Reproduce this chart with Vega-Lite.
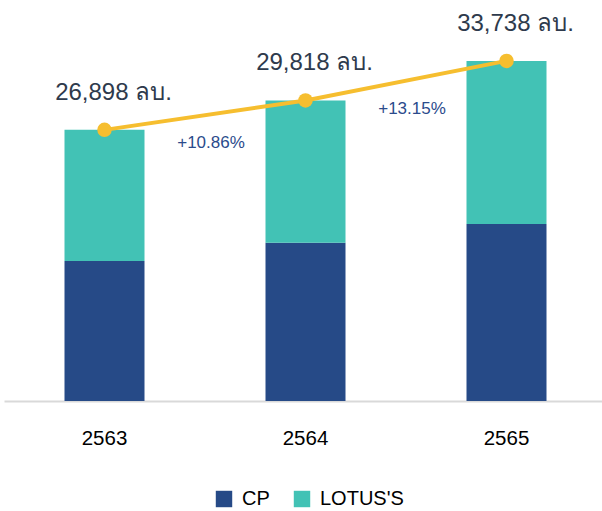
{
  "$schema": "https://vega.github.io/schema/vega-lite/v6.json",
  "width": 603,
  "height": 401,
  "padding": {"left": 4, "top": 0, "right": 0, "bottom": 0},
  "background": "white",
  "config": {
    "view": {"stroke": null},
    "font": "Helvetica, Liberation Sans, Arial, sans-serif"
  },
  "datasets": {
    "bars": [
      {"year": "2563", "company": "CP", "value": 13900},
      {"year": "2563", "company": "LOTUS'S", "value": 12998},
      {"year": "2564", "company": "CP", "value": 15700},
      {"year": "2564", "company": "LOTUS'S", "value": 14118},
      {"year": "2565", "company": "CP", "value": 17560},
      {"year": "2565", "company": "LOTUS'S", "value": 16178}
    ],
    "totals": [
      {"year": "2563", "total": 26898, "label": "26,898 ลบ.", "growth": "+10.86%"},
      {"year": "2564", "total": 29818, "label": "29,818 ลบ.", "growth": "+13.15%"},
      {"year": "2565", "total": 33738, "label": "33,738 ลบ.", "growth": ""}
    ]
  },
  "encoding": {
    "x": {
      "field": "year",
      "type": "nominal",
      "scale": {"paddingInner": 0, "paddingOuter": 0},
      "axis": {
        "title": null,
        "labelAngle": 0,
        "ticks": false,
        "domainColor": "#d9d9d9",
        "domainWidth": 2,
        "labelFontSize": 20.5,
        "labelColor": "#000000",
        "labelPadding": 27,
        "grid": false
      }
    }
  },
  "layer": [
    {
      "data": {"name": "bars"},
      "mark": {"type": "bar", "size": 80},
      "encoding": {
        "y": {
          "field": "value",
          "type": "quantitative",
          "aggregate": "sum",
          "stack": "zero",
          "scale": {"domain": [0, 39780], "nice": false},
          "axis": null
        },
        "color": {
          "field": "company",
          "type": "nominal",
          "scale": {"domain": ["CP", "LOTUS'S"], "range": ["#264a87", "#42c2b5"]},
          "legend": {
            "title": null,
            "orient": "none",
            "legendX": 210,
            "legendY": 489,
            "direction": "horizontal",
            "symbolType": "square",
            "symbolSize": 270,
            "symbolStrokeWidth": 0,
            "labelFontSize": 20,
            "labelColor": "#000000",
            "labelOffset": 8,
            "columnPadding": 22
          }
        },
        "order": {"field": "company", "sort": "ascending"}
      }
    },
    {
      "data": {"name": "totals"},
      "mark": {"type": "line", "color": "#f6be2f", "strokeWidth": 4},
      "encoding": {
        "y": {"field": "total", "type": "quantitative"}
      }
    },
    {
      "data": {"name": "totals"},
      "mark": {"type": "point", "filled": true, "color": "#f6be2f", "size": 210, "opacity": 1},
      "encoding": {
        "y": {"field": "total", "type": "quantitative"}
      }
    },
    {
      "data": {"name": "totals"},
      "mark": {"type": "text", "fontSize": 24, "color": "#2e3a4c", "dx": 9, "dy": -37},
      "encoding": {
        "y": {"field": "total", "type": "quantitative"},
        "text": {"field": "label"}
      }
    },
    {
      "data": {"name": "totals"},
      "transform": [
        {"window": [{"op": "lead", "field": "total", "as": "next"}], "sort": [{"field": "year"}]},
        {"filter": "datum.next != null"},
        {"calculate": "(datum.total + datum.next) / 2", "as": "mid"}
      ],
      "mark": {"type": "text", "fontSize": 17, "color": "#2b4b8c", "dx": 6, "dy": 28},
      "encoding": {
        "x": {"field": "year", "type": "nominal", "bandPosition": 1},
        "y": {"field": "mid", "type": "quantitative"},
        "text": {"field": "growth"}
      }
    }
  ]
}
